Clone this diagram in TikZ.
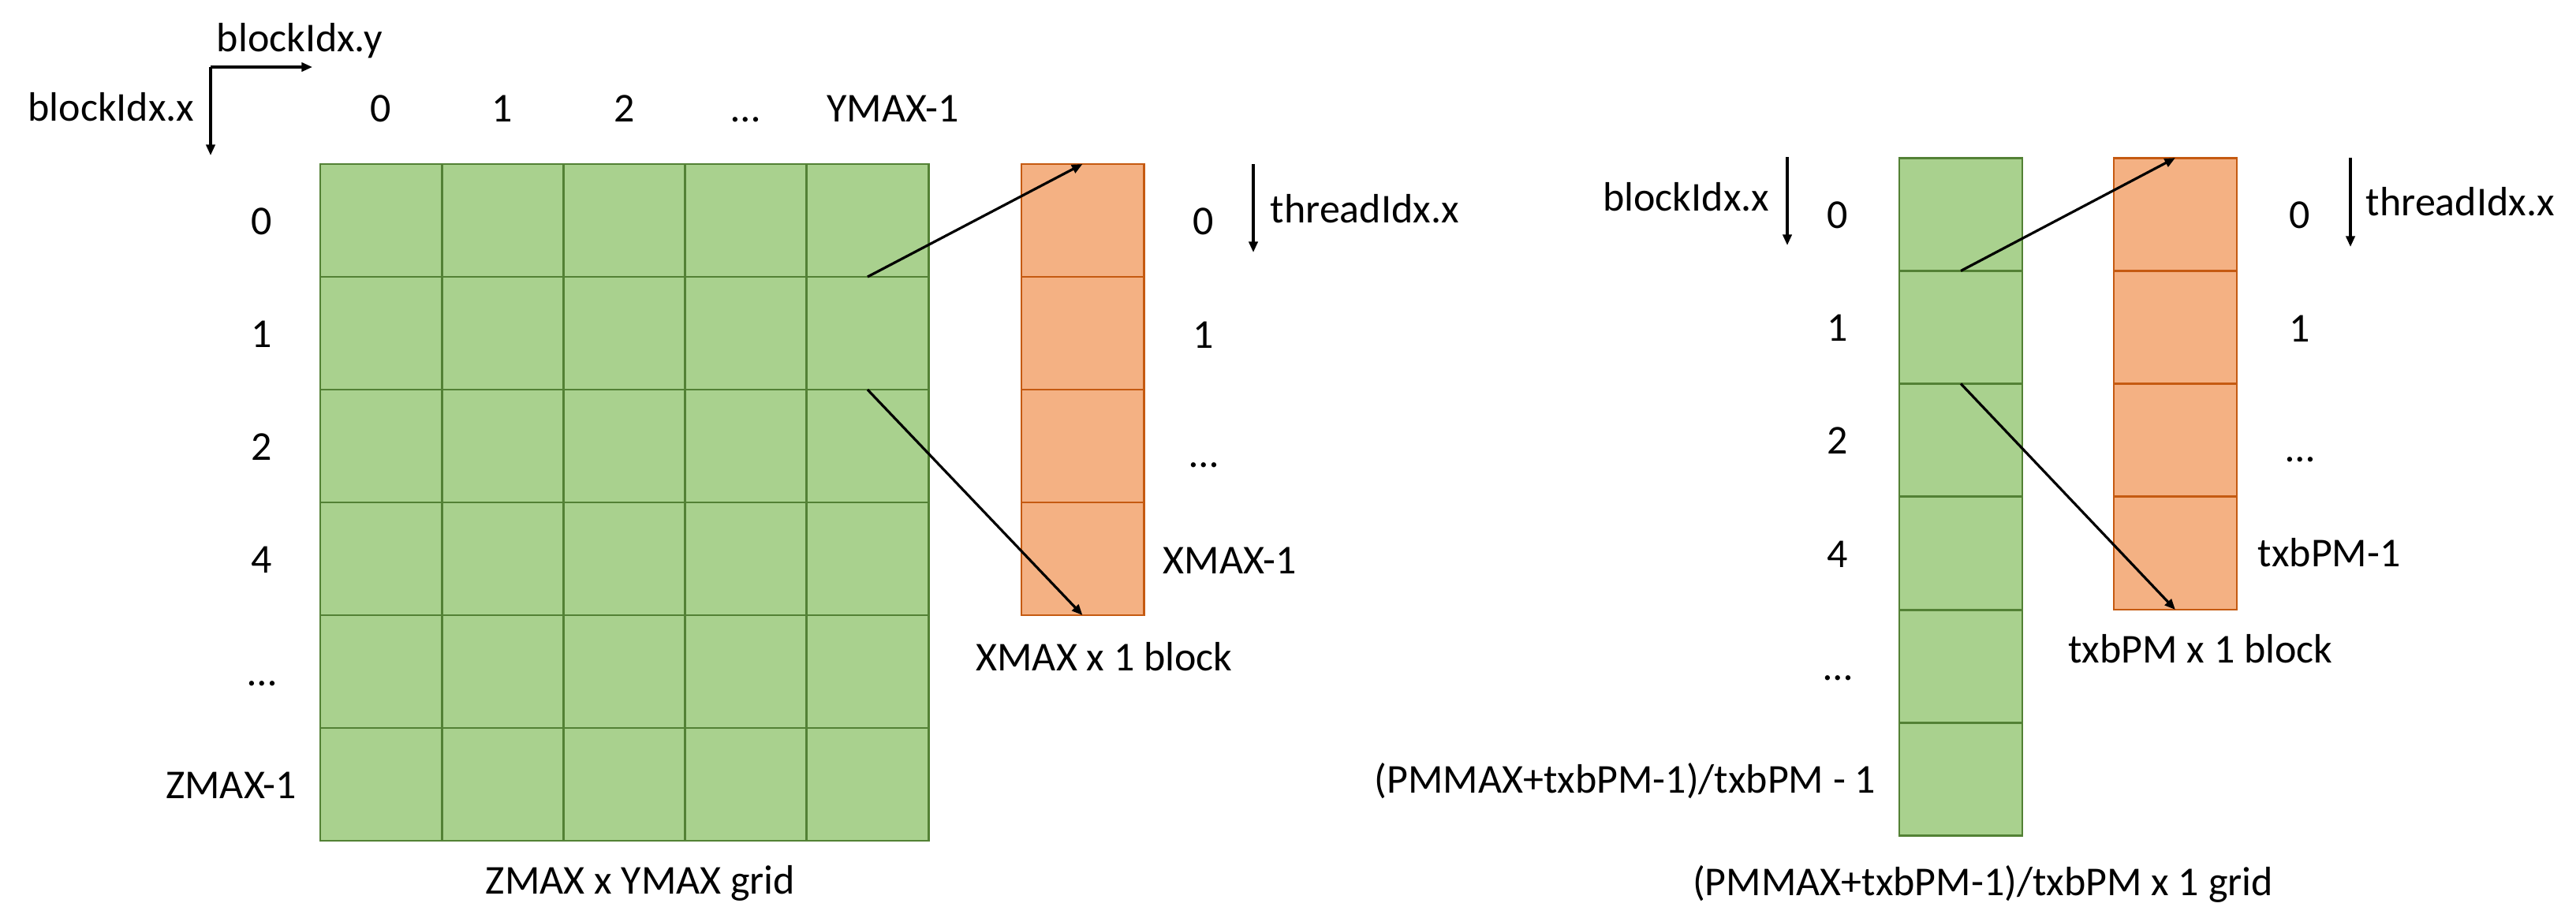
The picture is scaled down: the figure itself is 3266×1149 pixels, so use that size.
\documentclass[tikz,border=0pt]{standalone}
\usepackage{fontspec}
\setmainfont{Carlito}
\usetikzlibrary{arrows.meta}
\definecolor{cellgreen}{HTML}{A9D18E}
\definecolor{cellgreenline}{HTML}{538135}
\definecolor{cellorange}{HTML}{F4B183}
\definecolor{cellorangeline}{HTML}{C55A11}

\begin{document}
\begin{tikzpicture}[x=0.25pt,y=-0.25pt,
  cellbase/.style={line width=0.7pt, inner sep=0pt, outer sep=0pt, minimum height=35.75pt},
  gcell/.style={cellbase, draw=cellgreenline, fill=cellgreen, minimum width=38.6pt},
  ocell/.style={cellbase, draw=cellorangeline, fill=cellorange, minimum width=38.8pt},
  lbl/.style={font=\fontsize{13pt}{15pt}\selectfont, inner sep=0pt, anchor=base},
  lblw/.style={lbl, anchor=base west},
  lble/.style={lbl, anchor=base east},
  conn/.style={line width=0.8pt, -{Triangle[length=3.4pt,width=2.8pt]}},
]
\useasboundingbox (0,0) rectangle (3266,1149);

% ---------- left: ZMAX x YMAX grid of blocks ----------
\foreach \r in {0,...,5}{
  \foreach \c in {0,...,4}{
    \node[gcell] (g-\r-\c) at ({406+154.2*(\c+0.5)},{208+143*(\r+0.5)}) {};
  }
}
% one block: XMAX x 1 threads
\foreach \r in {0,...,3}{
  \node[ocell] (lo-\r) at (1372.5,{208+143*(\r+0.5)}) {};
}

\draw[conn] (g-1-4.north) -- (lo-0.north);
\draw[conn] (g-1-4.south) -- (lo-3.south);

% axes of the grid
\coordinate (axcorner) at (267,85);
\coordinate (axright) at (396,85);
\coordinate (axdown) at (267,197);
\draw[conn] (axcorner) -- (axright);
\draw[conn] (axcorner) -- (axdown);
\node[lblw] (lbly) at (274,65) {blockIdx.y};
\node[lbl] (lblx) at (141,153) {blockIdx.x};

% column indices
\node[lbl] (c0) at (483,154) {0};
\node[lbl] (c1) at (637,154) {1};
\node[lbl] (c2) at (792,154) {2};
\node[lbl] (c3) at (945,154) {…};
\node[lbl] (c4) at (1132,154) {YMAX-1};

% row indices
\node[lbl] (r0) at (332,297) {0};
\node[lbl] (r1) at (332,440) {1};
\node[lbl] (r2) at (332,583) {2};
\node[lbl] (r3) at (332,726) {4};
\node[lbl] (r4) at (332,869) {…};
\node[lble] (r5) at (377,1012) {ZMAX-1};
\node[lbl] (gridcap) at (812,1133) {ZMAX x YMAX grid};

% thread indices of the block
\coordinate (tl-top) at (1589,208);
\coordinate (tl-bot) at (1589,320);
\draw[conn] (tl-top) -- (tl-bot);
\node[lblw] (tlx) at (1610,282) {threadIdx.x};
\node[lbl] (t0) at (1526,297) {0};
\node[lbl] (t1) at (1526,441) {1};
\node[lbl] (t2) at (1526,592) {…};
\node[lblw] (t3) at (1474,727) {XMAX-1};
\node[lbl] (blkcap) at (1400,850) {XMAX x 1 block};

% ---------- right: 1-D grid of blocks ----------
\foreach \r in {0,...,5}{
  \node[gcell, minimum width=39pt] (rg-\r) at (2486,{200+143.3*(\r+0.5)}) {};
}
\foreach \r in {0,...,3}{
  \node[ocell, minimum width=39pt] (ro-\r) at (2758,{200+143.3*(\r+0.5)}) {};
}

\draw[conn] (rg-1.north) -- (ro-0.north);
\draw[conn] (rg-1.south) -- (ro-3.south);

\coordinate (bx-top) at (2266,199);
\coordinate (bx-bot) at (2266,311);
\draw[conn] (bx-top) -- (bx-bot);
\node[lble] (rbx) at (2244,267) {blockIdx.x};

\node[lbl] (rr0) at (2330,289) {0};
\node[lbl] (rr1) at (2330,432) {1};
\node[lbl] (rr2) at (2330,575) {2};
\node[lbl] (rr3) at (2330,719) {4};
\node[lbl] (rr4) at (2330,862) {…};
\node[lble] (rr5) at (2379,1005) {(PMMAX+txbPM-1)/txbPM - 1};
\node[lbl] (rgridcap) at (2514,1135) {(PMMAX+txbPM-1)/txbPM x 1 grid};

\coordinate (tr-top) at (2980,200);
\coordinate (tr-bot) at (2980,313);
\draw[conn] (tr-top) -- (tr-bot);
\node[lblw] (trx) at (2999,273) {threadIdx.x};
\node[lbl] (rt0) at (2916,289) {0};
\node[lbl] (rt1) at (2916,433) {1};
\node[lbl] (rt2) at (2916,585) {…};
\node[lblw] (rt3) at (2862,718) {txbPM-1};
\node[lbl] (rblkcap) at (2790,840) {txbPM x 1 block};
\end{tikzpicture}
\end{document}
